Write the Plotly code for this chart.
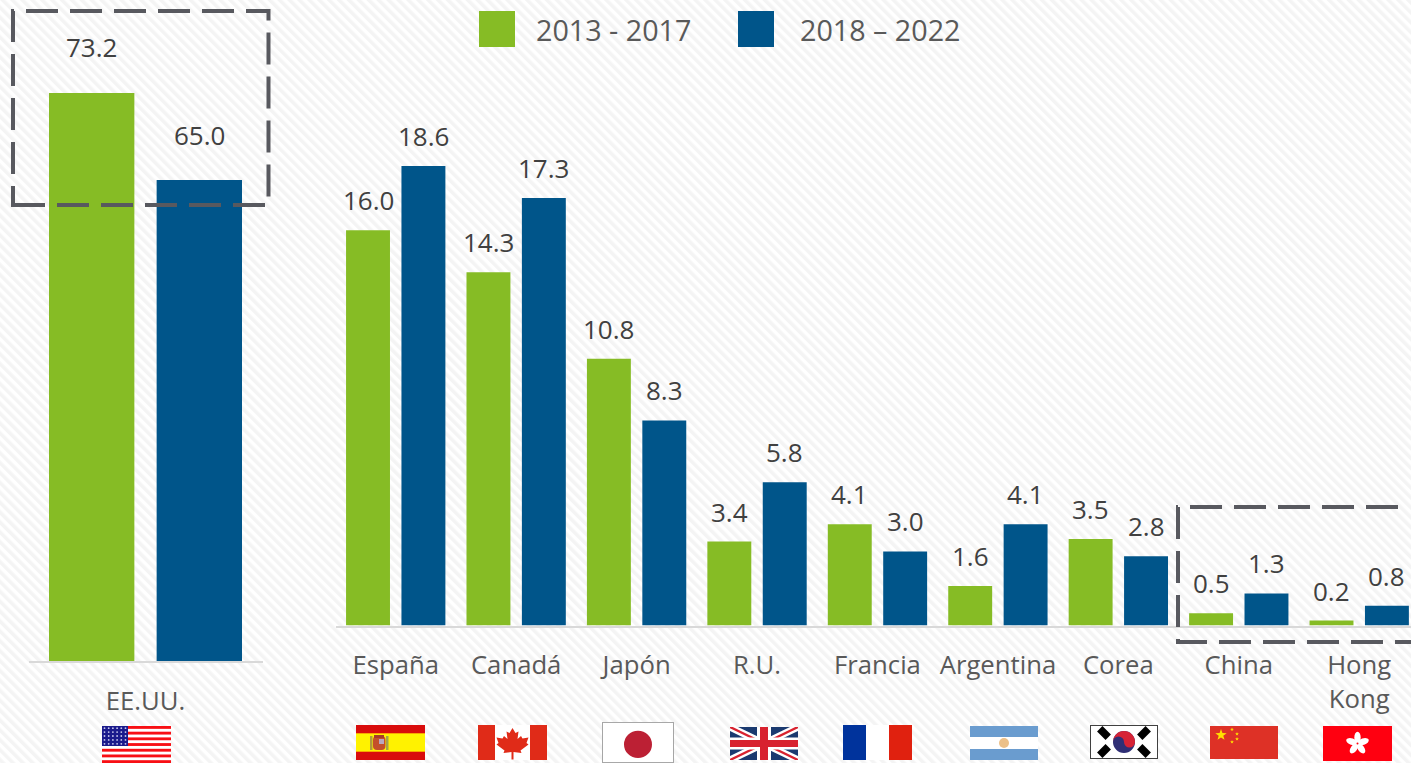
import base64
import math
import plotly.graph_objects as go

# --- data -------------------------------------------------------------------
PERIODS = ["2013 - 2017", "2018 – 2022"]
US_LABEL = ["EE.UU."]
US_2013_2017 = [73.2]
US_2018_2022 = [65.0]
COUNTRIES = ["España", "Canadá", "Japón", "R.U.", "Francia", "Argentina", "Corea", "China", "Hong<br>Kong"]
VALUES_2013_2017 = [16.0, 14.3, 10.8, 3.4, 4.1, 1.6, 3.5, 0.5, 0.2]
VALUES_2018_2022 = [18.6, 17.3, 8.3, 5.8, 3.0, 4.1, 2.8, 1.3, 0.8]

# --- styling ----------------------------------------------------------------
W, H = 1411, 763
GREEN = "#86BC25"
BLUE = "#00558A"
FONT = "Open Sans"
VALUE_COLOR = "#404040"
LABEL_COLOR = "#595959"
DASH_COLOR = "#58595F"


def fx(px):
    return px / W


def fy(px):
    return 1 - px / H


def svg_uri(body, w, h):
    svg = (f'<svg xmlns="http://www.w3.org/2000/svg" width="{w}" height="{h}" '
           f'viewBox="0 0 {w} {h}">{body}</svg>')
    return "data:image/svg+xml;base64," + base64.b64encode(svg.encode("utf-8")).decode("ascii")


def page_image(uri, x0, y0, x1, y1):
    return dict(source=uri, xref="paper", yref="paper", x=fx(x0), y=fy(y0),
                sizex=(x1 - x0) / W, sizey=(y1 - y0) / H, xanchor="left", yanchor="top",
                sizing="stretch", layer="below")


# --- page hatch -------------------------------------------------------------
hatch = ('<defs><pattern id="h" width="7" height="7" patternUnits="userSpaceOnUse" '
         'patternTransform="rotate(-45)"><rect width="7" height="7" fill="#ffffff"/>'
         '<rect width="3.5" height="7" fill="#f4f4f4"/></pattern></defs>'
         f'<rect width="{W}" height="{H}" fill="url(#h)"/>')


# --- flags ------------------------------------------------------------------
def star(cx, cy, r, fill):
    pts = []
    for k in range(10):
        rad = r if k % 2 == 0 else r * 0.4
        a = -math.pi / 2 + k * math.pi / 5
        pts.append(f"{cx + rad * math.cos(a):.2f},{cy + rad * math.sin(a):.2f}")
    return f'<polygon points="{" ".join(pts)}" fill="{fill}"/>'


def flag_us():
    b = '<rect width="69" height="37" fill="#fff"/>'
    for k in range(7):
        b += f'<rect y="{k * 5.7:.1f}" width="69" height="2.85" fill="#f80f14"/>'
    b += '<rect width="26" height="20" fill="#1a1a8c"/>'
    for r in range(5):
        for c in range(6):
            b += f'<circle cx="{2.5 + c * 4.2:.1f}" cy="{2.2 + r * 3.9:.1f}" r="0.9" fill="#c9c9ee"/>'
    return svg_uri(b, 69, 37)


def flag_es():
    b = ('<rect width="69" height="35" fill="#d90c0c"/>'
         '<rect y="8" width="69" height="19" fill="#f7a800"/>'
         '<rect y="9" width="69" height="17" fill="#fff200"/>'
         '<rect x="14" y="11" width="2.5" height="14" fill="#b09a3c"/>'
         '<rect x="30" y="11" width="2.5" height="14" fill="#a5a24a"/>'
         '<rect x="17" y="11" width="12.5" height="14" rx="4" fill="#c4502a"/>'
         '<rect x="18" y="10" width="10" height="3" fill="#a83a2a"/>'
         '<rect x="23" y="14" width="5" height="5" fill="#b8a8c0"/>')
    return svg_uri(b, 69, 35)


def flag_ca():
    leaf = ("34.5,3 37.5,8 40.5,6.5 39.5,14 43,11 44.5,13.5 50.5,12.5 48.5,18 50.5,19.5 "
            "42.5,25.5 43.5,28 35.5,27 35.5,34.5 33.5,34.5 33.5,27 25.5,28 26.5,25.5 18.5,19.5 "
            "20.5,18 18.5,12.5 24.5,13.5 26,11 29.5,14 28.5,6.5 31.5,8")
    b = ('<rect width="69" height="35" fill="#fff"/>'
         '<rect width="17" height="35" fill="#e02b18"/>'
         '<rect x="52" width="17" height="35" fill="#e02b18"/>'
         f'<polygon points="{leaf}" fill="#e02b18"/>')
    return svg_uri(b, 69, 35)


def flag_jp():
    b = ('<rect x="0.5" y="0.5" width="71" height="41" fill="#fff" stroke="#a6a6a6"/>'
         '<ellipse cx="36" cy="23" rx="14" ry="14" fill="#bc2034"/>')
    return svg_uri(b, 72, 42)


def flag_uk():
    navy = "#1b3a70"
    red = "#d8222f"
    b = (f'<rect width="68" height="33" fill="{navy}"/>'
         '<path d="M0 0 L68 33 M68 0 L0 33" stroke="#fff" stroke-width="7"/>'
         f'<path d="M0 0 L68 33 M68 0 L0 33" stroke="{red}" stroke-width="2.4"/>'
         '<rect x="27" width="14" height="33" fill="#fff"/>'
         '<rect y="10.5" width="68" height="12" fill="#fff"/>'
         f'<rect x="30" width="8" height="33" fill="{red}"/>'
         f'<rect y="13" width="68" height="7" fill="{red}"/>')
    return svg_uri(b, 68, 33)


def flag_fr():
    b = ('<rect width="69" height="35" fill="#fff"/>'
         '<rect width="23" height="35" fill="#00339c"/>'
         '<rect x="46" width="23" height="35" fill="#e0210f"/>')
    return svg_uri(b, 69, 35)


def flag_ar():
    b = ('<rect width="68" height="34" fill="#fff"/>'
         '<rect width="68" height="11" fill="#6a9ccf"/>'
         '<rect y="23" width="68" height="11" fill="#6a9ccf"/>'
         '<circle cx="34" cy="17" r="5" fill="#ecc088"/>')
    return svg_uri(b, 68, 34)


def flag_kr():
    bars = ""
    for cx, cy, ang in [(14, 8, 45), (54, 8, -45), (14, 26, -45), (54, 26, 45)]:
        bars += (f'<rect x="{cx - 6}" y="{cy - 3.8}" width="12" height="7.6" fill="#000" '
                 f'transform="rotate({ang} {cx} {cy})"/>')
    b = ('<rect x="0.5" y="0.5" width="67" height="33" fill="#fff" stroke="#404040"/>' + bars +
         '<circle cx="34" cy="17" r="11" fill="#2f2f75"/>'
         '<path d="M23 17 A11 11 0 0 1 45 17 A5.5 5.5 0 0 1 34 17 A5.5 5.5 0 0 0 23 17 Z" fill="#d62336"/>')
    return svg_uri(b, 68, 34)


def flag_cn():
    b = ('<rect width="68" height="33" fill="#de3126"/>' + star(11, 9, 6, "#ffe100") +
         star(22, 3.5, 2, "#ffe100") + star(27, 8, 2, "#ffe100") +
         star(27, 13, 2, "#ffe100") + star(22, 16, 2, "#ffe100"))
    return svg_uri(b, 68, 33)


def flag_hk():
    petals = "".join(
        f'<ellipse cx="34.5" cy="11.5" rx="3.2" ry="5.8" fill="#fff" '
        f'transform="rotate({a} 34.5 17.5)"/>' for a in (0, 72, 144, 216, 288))
    b = f'<rect width="69" height="35" fill="#ff0010"/>{petals}<circle cx="34.5" cy="17.5" r="1" fill="#ff0010"/>'
    return svg_uri(b, 69, 35)


images = [
    page_image(svg_uri(hatch, W, H), 0, 0, W, H),
    page_image(flag_us(), 102, 726, 171, 763),
    page_image(flag_es(), 356, 725, 425, 760),
    page_image(flag_ca(), 478, 725, 547, 760),
    page_image(flag_jp(), 602, 722, 674, 763),
    page_image(flag_uk(), 730, 727, 798, 760),
    page_image(flag_fr(), 843, 725, 912, 760),
    page_image(flag_ar(), 970, 726, 1038, 760),
    page_image(flag_kr(), 1090, 725, 1158, 759),
    page_image(flag_cn(), 1210, 726, 1278, 759),
    page_image(flag_hk(), 1323, 726, 1392, 761),
]

# --- bars -------------------------------------------------------------------
us_x = [0]
other_x = list(range(len(COUNTRIES)))

fig = go.Figure()
for name, vals, color in [(PERIODS[0], US_2013_2017, GREEN), (PERIODS[1], US_2018_2022, BLUE)]:
    fig.add_trace(go.Bar(x=us_x, y=vals, name=name, marker=dict(color=color, line_width=0),
                         xaxis="x", yaxis="y", showlegend=False, offsetgroup=name, hoverinfo="x+y"))
for name, vals, color in [(PERIODS[0], VALUES_2013_2017, GREEN), (PERIODS[1], VALUES_2018_2022, BLUE)]:
    fig.add_trace(go.Bar(x=other_x, y=vals, name=name, marker=dict(color=color, line_width=0),
                         xaxis="x2", yaxis="y2", showlegend=False, offsetgroup=name, hoverinfo="x+y"))

# --- value labels -----------------------------------------------------------
GROUP_OFFSET = 0.23
annotations = []


def value_label(x, y, xref, yref, shift):
    annotations.append(dict(x=x, y=y, xref=xref, yref=yref, yshift=shift, text=f"{y:.1f}",
                            showarrow=False, xanchor="center", yanchor="middle",
                            font=dict(family=FONT, size=26, color=VALUE_COLOR)))


value_label(us_x[0] - GROUP_OFFSET, US_2013_2017[0], "x", "y", 46)
value_label(us_x[0] + GROUP_OFFSET, US_2018_2022[0], "x", "y", 45)
for i in other_x:
    value_label(i - GROUP_OFFSET, VALUES_2013_2017[i], "x2", "y2", 30)
    value_label(i + GROUP_OFFSET, VALUES_2018_2022[i], "x2", "y2", 30)

# --- legend: large swatches drawn by hand, Plotly's own keys stay small ------
shapes = []
for label, color, sx, tx in [(PERIODS[0], GREEN, 479, 534), (PERIODS[1], BLUE, 738, 798)]:
    shapes.append(dict(type="rect", xref="paper", yref="paper", x0=fx(sx), x1=fx(sx + 36),
                       y0=fy(47), y1=fy(11), fillcolor=color, line_width=0))
    annotations.append(dict(x=fx(tx), y=fy(29), xref="paper", yref="paper", text=label,
                            showarrow=False, xanchor="left", yanchor="middle",
                            font=dict(family=FONT, size=28.7, color=LABEL_COLOR)))


# --- dashed highlight boxes -------------------------------------------------
def dashed_path(points, closed=False):
    d = "M" + " L".join(f"{fx(px):.5f},{fy(py):.5f}" for px, py in points)
    if closed:
        d += " Z"
    return dict(type="path", xref="paper", yref="paper", path=d, layer="above",
                line=dict(color=DASH_COLOR, width=4, dash="32px,12px"))


shapes.append(dashed_path([(13, 205), (268.5, 205), (268.5, 11), (13, 11)], closed=True))
shapes.append(dashed_path([(1398, 507), (1178, 507), (1178, 642), (1411, 642)]))

# --- layout -----------------------------------------------------------------
axis_line = dict(showline=True, linecolor="#D9D9D9", linewidth=2, showgrid=False, zeroline=False,
                 ticks="", tickfont=dict(family=FONT, size=25.7, color=LABEL_COLOR),
                 tickmode="array", ticklabelstandoff=16)
hidden_y = dict(visible=False, showgrid=False, zeroline=False, fixedrange=True)

fig.update_layout(
    width=W,
    height=H,
    autosize=False,
    margin=dict(l=0, r=0, t=0, b=0),
    paper_bgcolor="#FFFFFF",
    plot_bgcolor="rgba(0,0,0,0)",
    barmode="group",
    bargap=0.08,
    bargroupgap=0.207,
    showlegend=False,
    images=images,
    shapes=shapes,
    annotations=annotations,
    xaxis=dict(domain=[fx(28.5), fx(262.5)], range=[-0.5, 0.5], anchor="y",
               tickvals=us_x, ticktext=US_LABEL, **axis_line),
    yaxis=dict(domain=[fy(661), 1], range=[19.67, 81.97], anchor="x", **hidden_y),
    xaxis2=dict(domain=[fx(335.5), 1], range=[-0.5, 8.43], anchor="y2",
                tickvals=other_x, ticktext=COUNTRIES, **axis_line),
    yaxis2=dict(domain=[fy(625.5), 1], range=[0, 25.32], anchor="x2", **hidden_y),
)

fig.write_html("out.html", config={"displayModeBar": False})
